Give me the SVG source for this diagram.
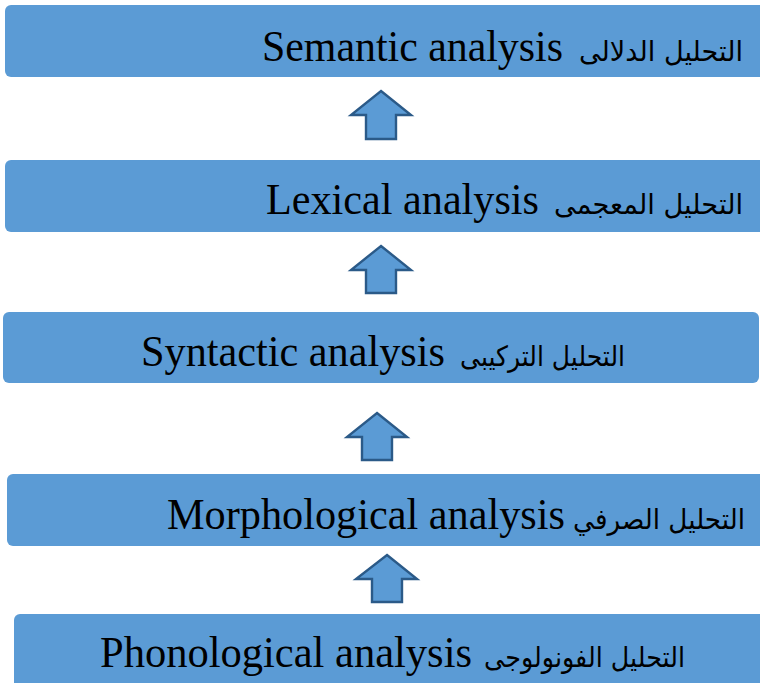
<svg xmlns="http://www.w3.org/2000/svg" width="760" height="683" viewBox="0 0 760 683">
<style>
.box{fill:#5B9BD5;}
.en{font-family:"Liberation Serif","Times New Roman",serif;font-size:45px;fill:#000;}
.ar{font-family:"DejaVu Sans",sans-serif;font-size:28px;fill:#000;text-anchor:end;}
.arrow{fill:#5B9BD5;stroke:#2B5A88;stroke-width:2.4;stroke-linejoin:miter;}
</style>
<rect width="760" height="683" fill="#fff"/>
<g id="semantic">
<rect class="box" x="5" y="5" width="770" height="72" rx="6"/>
<text class="en" x="262" y="61" textLength="301" lengthAdjust="spacingAndGlyphs">Semantic analysis</text>
<text class="ar" x="743" y="61" textLength="164" lengthAdjust="spacingAndGlyphs">التحليل الدلالى</text>
</g>
<g id="lexical">
<rect class="box" x="5" y="160" width="770" height="72" rx="6"/>
<text class="en" x="266" y="214" textLength="273" lengthAdjust="spacingAndGlyphs">Lexical analysis</text>
<text class="ar" x="743" y="214" textLength="189" lengthAdjust="spacingAndGlyphs">التحليل المعجمى</text>
</g>
<g id="syntactic">
<rect class="box" x="3" y="312" width="756" height="71" rx="6"/>
<text class="en" x="141" y="366" textLength="304" lengthAdjust="spacingAndGlyphs">Syntactic analysis</text>
<text class="ar" x="625" y="366" textLength="165" lengthAdjust="spacingAndGlyphs">التحليل التركيبى</text>
</g>
<g id="morphological">
<rect class="box" x="7" y="474" width="770" height="72" rx="6"/>
<text class="en" x="167" y="529" textLength="398" lengthAdjust="spacingAndGlyphs">Morphological analysis</text>
<text class="ar" x="745" y="529" textLength="172" lengthAdjust="spacingAndGlyphs">التحليل الصرفي</text>
</g>
<g id="phonological">
<rect class="box" x="14" y="614" width="770" height="90" rx="6"/>
<text class="en" x="100" y="667" textLength="372" lengthAdjust="spacingAndGlyphs">Phonological analysis</text>
<text class="ar" x="685" y="667" textLength="201" lengthAdjust="spacingAndGlyphs">التحليل الفونولوجى</text>
</g>
<g id="connectors">
<polygon class="arrow" points="381,91 411,115 396,115 396,139 366,139 366,115 351,115"/>
<polygon class="arrow" points="381,246 411,270 396,270 396,293 366,293 366,270 351,270"/>
<polygon class="arrow" points="377,413 407,437 392,437 392,460 362,460 362,437 347,437"/>
<polygon class="arrow" points="387,555 417,579 402,579 402,602 372,602 372,579 356,579"/>
</g>
</svg>
